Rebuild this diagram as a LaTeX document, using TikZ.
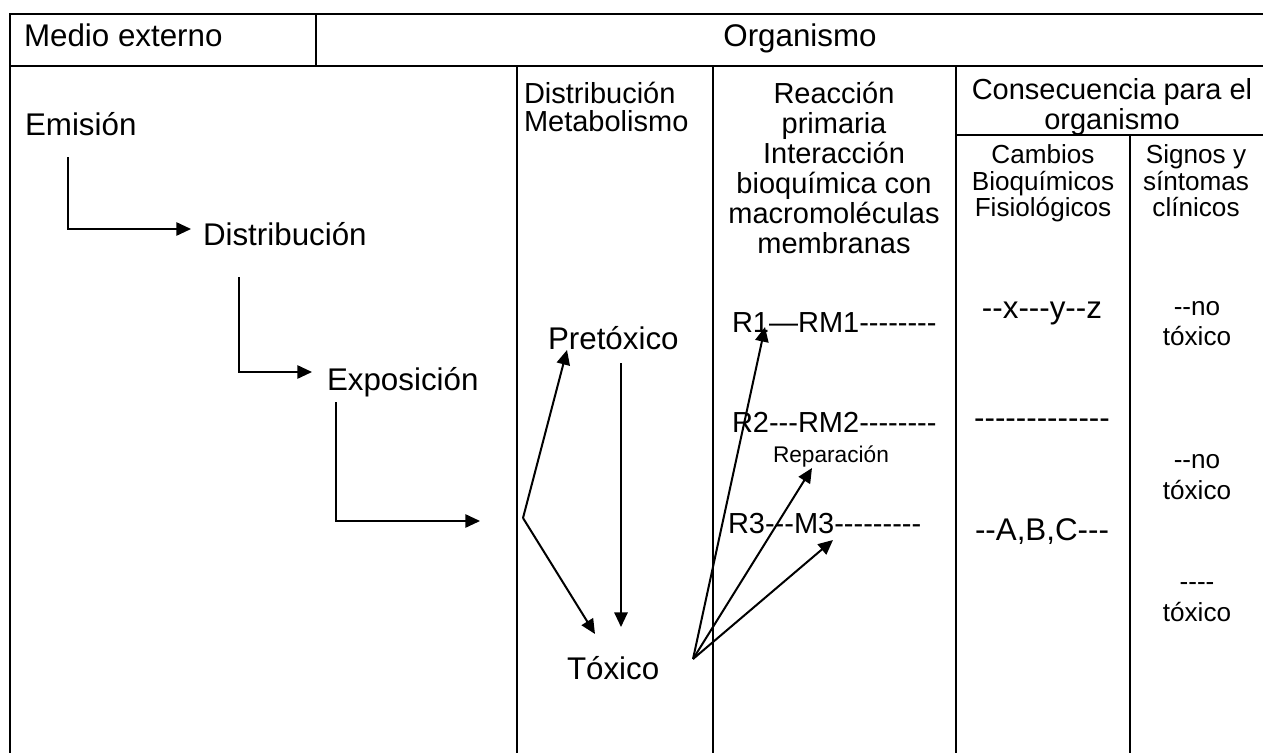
\documentclass[tikz,border=0pt]{standalone}
\usepackage{fontspec}
\newfontfamily\arialf{Liberation Sans}[Ligatures=TeXOff]
\usetikzlibrary{arrows.meta}

\tikzset{
  rule/.style={line width=2pt},
  flowline/.style={line width=1.3pt, -{Triangle[length=11pt,width=10pt]}},
  arr/.style={line width=1.5pt, -{Triangle[length=11pt,width=10pt]}},
  bigtxt/.style={font=\arialf\fontsize{23.5}{28}\selectfont, inner sep=0pt, outer sep=0pt},
  hdtxt/.style={font=\arialf\fontsize{21.75}{26}\selectfont, inner sep=0pt, outer sep=0pt},
  smtxt/.style={font=\arialf\fontsize{19.6}{23}\selectfont, inner sep=0pt, outer sep=0pt},
  notetxt/.style={font=\arialf\fontsize{17}{20}\selectfont, inner sep=0pt, outer sep=0pt}
}

\begin{document}
\begin{tikzpicture}[x=0.75pt, y=-0.75pt]
\useasboundingbox (0,0) rectangle (1263,753);
\fill[white] (0,0) rectangle (1263,753);

% table rules
\draw[rule] (10,14) -- (1263,14);
\draw[rule] (10,66) -- (1263,66);
\draw[rule] (10,13) -- (10,753);
\draw[rule] (316,14) -- (316,66);
\draw[rule] (517,66) -- (517,753);
\draw[rule] (713,66) -- (713,753);
\draw[rule] (956,66) -- (956,753);
\draw[rule] (956,135) -- (1263,135);
\draw[rule] (1130,135) -- (1130,753);

% header row
\node[bigtxt, anchor=base west] (medio) at (24,46) {Medio externo};
\node[bigtxt, anchor=base] (org) at (800,46) {Organismo};

% left column: emission chain
\node[bigtxt, anchor=base west] (emi) at (25,135) {Emisión};
\node[bigtxt, anchor=base west] (dis) at (203,245) {Distribución};
\node[bigtxt, anchor=base west] (expo) at (327,390) {Exposición};

\coordinate (e0) at (68,157);  \coordinate (e1) at (191,229);
\coordinate (d0) at (239,277); \coordinate (d1) at (312,372);
\coordinate (x0) at (336,402); \coordinate (x1) at (480,521);
\draw[flowline] (e0) |- (e1);
\draw[flowline] (d0) |- (d1);
\draw[flowline] (x0) |- (x1);

% column headers
\node[hdtxt, anchor=base west] (hdA) at (524,103) {Distribución};
\node[hdtxt, anchor=base west] (hdB) at (524,131) {Metabolismo};

\node[hdtxt, anchor=base] (rc1) at (834,103) {Reacción};
\node[hdtxt, anchor=base] (rc2) at (834,133) {primaria};
\node[hdtxt, anchor=base] (rc3) at (834,163) {Interacción};
\node[hdtxt, anchor=base] (rc4) at (834,193) {bioquímica con};
\node[hdtxt, anchor=base] (rc5) at (834,223) {macromoléculas};
\node[hdtxt, anchor=base] (rc6) at (834,253) {membranas};

\node[hdtxt, anchor=base] (cs1) at (1112,99) {Consecuencia para el};
\node[hdtxt, anchor=base] (cs2) at (1112,129) {organismo};

\node[smtxt, anchor=base] (cb1) at (1043,163) {Cambios};
\node[smtxt, anchor=base] (cb2) at (1043,190) {Bioquímicos};
\node[smtxt, anchor=base] (cb3) at (1043,216) {Fisiológicos};

\node[smtxt, anchor=base] (sg1) at (1196,163) {Signos y};
\node[smtxt, anchor=base] (sg2) at (1196,190) {síntomas};
\node[smtxt, anchor=base] (sg3) at (1196,216) {clínicos};

% distribution / metabolism
\node[bigtxt, anchor=base west] (pre) at (548,349) {Pretóxico};
\node[bigtxt, anchor=base west] (tox) at (567,679) {Tóxico};

\coordinate (split) at (523,518);
\coordinate (preTip) at (567,350);
\coordinate (toxTip) at (595,634);
\coordinate (v0) at (621,363);
\coordinate (v1) at (621,627);
\draw[arr] (split) -- (preTip);
\draw[arr] (split) -- (toxTip);
\draw[arr] (v0) -- (v1);

% primary reactions
\node[hdtxt, anchor=base west] (r1) at (732,332) {R1—RM1--------};
\node[hdtxt, anchor=base west] (r2) at (732,432) {R2---RM2--------};
\node[notetxt, anchor=base west] (rep) at (773,462) {Reparación};
\node[hdtxt, anchor=base west] (r3) at (728,533) {R3---M3---------};

\coordinate (src) at (693,659);
\coordinate (r1Tip) at (765,327);
\coordinate (repTip) at (812,468);
\coordinate (m3Tip) at (833,540);
\draw[arr] (src) -- (r1Tip);
\draw[arr] (src) -- (repTip);
\draw[arr] (src) -- (m3Tip);

% consequences
\node[bigtxt, anchor=base] (cx) at (1042,318) {--x---y--z};
\node[bigtxt, anchor=base] (cd) at (1042,428) {-------------};
\node[bigtxt, anchor=base] (ca) at (1042,540) {--A,B,C---};

\node[smtxt, anchor=base] (n1a) at (1197,315) {--no};
\node[smtxt, anchor=base] (n1b) at (1197,345) {tóxico};
\node[smtxt, anchor=base] (n2a) at (1197,468) {--no};
\node[smtxt, anchor=base] (n2b) at (1197,499) {tóxico};
\node[smtxt, anchor=base] (n3a) at (1197,590) {----};
\node[smtxt, anchor=base] (n3b) at (1197,621) {tóxico};
\end{tikzpicture}
\end{document}
